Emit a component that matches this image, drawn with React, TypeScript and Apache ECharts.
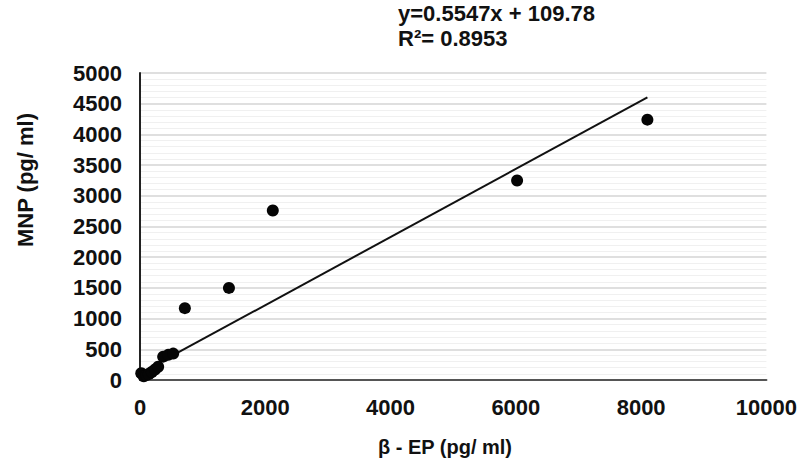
import React, { useEffect, useRef } from "react";
import * as echarts from "echarts";

const betaEP = [20, 60, 100, 140, 190, 240, 290, 370, 450, 530, 716, 1420, 2120, 6020, 8100];
const mnp = [110, 60, 80, 95, 130, 170, 215, 380, 410, 430, 1170, 1500, 2760, 3250, 4240];
const trendX = [0, 8100];
const trendY = [110, 4603];
const equationText = "y=0.5547x + 109.78";
const r2Text = "R\u00B2= 0.8953";
const xName = "\u03B2 - EP (pg/ ml)";
const yName = "MNP (pg/ ml)";

export default function App() {
  const ref = useRef<HTMLDivElement>(null);
  useEffect(() => {
    if (!ref.current) return;
    const chart = echarts.init(ref.current, null, { renderer: "svg" });
    const font = "'Liberation Sans', Arial, sans-serif";
    const plain = (v: number) => String(v);
    chart.setOption({
      animation: false,
      backgroundColor: "#ffffff",
      grid: { left: 140, right: 32, top: 73, bottom: 85, containLabel: false },
      xAxis: {
        type: "value",
        min: 0,
        max: 10000,
        interval: 2000,
        axisLine: { show: true, lineStyle: { color: "#555", width: 2 } },
        axisTick: { show: false },
        splitLine: { show: false },
        axisLabel: { formatter: plain, fontFamily: font, fontSize: 22, fontWeight: "bold", color: "#111", margin: 16 },
      },
      yAxis: {
        type: "value",
        min: 0,
        max: 5000,
        interval: 500,
        axisLine: { show: true, lineStyle: { color: "#222", width: 2 } },
        axisTick: { show: false },
        splitLine: { show: true, lineStyle: { color: "#d4d4d4", width: 1.5 } },
        minorTick: { show: false, splitNumber: 5 },
        minorSplitLine: { show: true, lineStyle: { color: "#f0f0f0", width: 1 } },
        axisLabel: { formatter: plain, fontFamily: font, fontSize: 22, fontWeight: "bold", color: "#111", margin: 18 },
      },
      series: [
        {
          type: "line",
          data: trendX.map((x, i) => [x, trendY[i]]),
          showSymbol: false,
          lineStyle: { color: "#111", width: 2 },
          z: 2,
        },
        {
          type: "scatter",
          data: betaEP.map((x, i) => [x, mnp[i]]),
          symbolSize: 12,
          itemStyle: { color: "#050505", opacity: 1 },
          z: 3,
        },
      ],
      graphic: [
        {
          type: "text",
          left: 398,
          top: 2,
          style: { text: equationText, font: `bold 22px ${font}`, fill: "#111" },
        },
        {
          type: "text",
          left: 398,
          top: 27,
          style: { text: r2Text, font: `bold 22px ${font}`, fill: "#111" },
        },
        {
          type: "text",
          x: 25,
          y: 180,
          rotation: Math.PI / 2,
          style: { text: yName, font: `bold 22px ${font}`, fill: "#111", align: "center", verticalAlign: "middle" },
        },
        {
          type: "text",
          x: 445,
          y: 447,
          style: { text: xName, font: `bold 20px ${font}`, fill: "#111", align: "center", verticalAlign: "middle" },
        },
      ],
    });
    return () => chart.dispose();
  }, []);
  return <div ref={ref} style={{ position: "fixed", left: 0, top: 0, width: 800, height: 465 }} />;
}
